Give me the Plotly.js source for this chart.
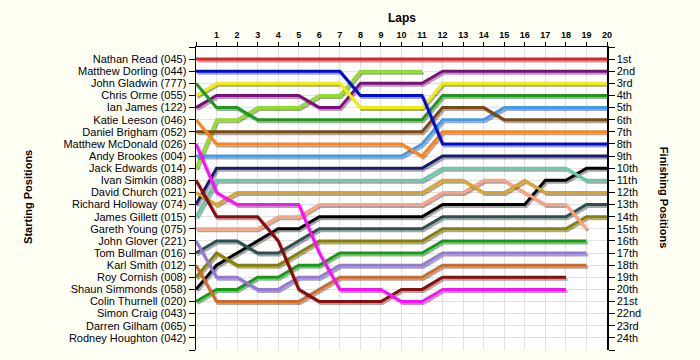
<!DOCTYPE html>
<html>
<head>
<meta charset="utf-8">
<script src="https://cdn.plot.ly/plotly-3.0.1.min.js"></script>
<style>
  html, body { margin: 0; padding: 0; background: #FFFFF3; }
  #chart { width: 700px; height: 360px; }
</style>
</head>
<body>
<div id="chart"></div>
<script>
// Starting-order names (left axis tick labels)
const startNames = [
  "Nathan Read (045)", "Matthew Dorling (044)", "John Gladwin (777)", "Chris Orme (055)",
  "Ian James (122)", "Katie Leeson (046)", "Daniel Brigham (052)", "Matthew McDonald (026)",
  "Andy Brookes (004)", "Jack Edwards (014)", "Ivan Simkin (088)", "David Church (021)",
  "Richard Holloway (074)", "James Gillett (015)", "Gareth Young (075)", "John Glover (221)",
  "Tom Bullman (016)", "Karl Smith (012)", "Roy Cornish (008)", "Shaun Simmonds (058)",
  "Colin Thurnell (020)", "Simon Craig (043)", "Darren Gilham (065)", "Rodney Houghton (042)"
];
// Finishing position labels (right axis)
const finishLabels = [
  "1st","2nd","3rd","4th","5th","6th","7th","8th","9th","10th","11th","12th",
  "13th","14th","15th","16th","17th","18th","19th","20th","21st","22nd","23rd","24th"
];
// Lap tick labels
const lapLabels = ["1","2","3","4","5","6","7","8","9","10","11","12","13","14","15","16","17","18","19","20"];

// Position on each lap (lap 0 = starting position), by starting position
const p01 = [1,1,1,1,1,1,1,1,1,1,1,1,1,1,1,1,1,1,1,1,1];
const p02 = [2,2,2,2,2,2,2,2,4,4,4,4,8,8,8,8,8,8,8,8,8];
const p03 = [3,5,5,6,6,6,6,6,6,6,6,6,4,4,4,4,4,4,4,4,4];
const p04 = [4,3,3,3,3,3,3,3,5,5,5,5,3,3,3,3,3,3,3,3,3];
const p05 = [5,4,4,4,4,4,5,5,3,3,3,3,2,2,2,2,2,2,2,2,2];
const p06 = [6,8,8,8,8,8,8,8,8,8,8,9,7,7,7,7,7,7,7,7,7];
const p07 = [7,7,7,7,7,7,7,7,7,7,7,7,5,5,5,6,6,6,6,6,6];
const p08 = [8,12,13,13,13,13,17,20,20,20,21,21,20,20,20,20,20,20,20];
const p09 = [9,9,9,9,9,9,9,9,9,9,9,8,6,6,6,5,5,5,5,5,5];
const p10 = [10,6,6,5,5,5,4,4,2,2,2,2];
const p11 = [11,14,14,14,16,20,21,21,21,21,20,20,19,19,19,19,19,19,19];
const p12 = [12,13,12,12,12,12,12,12,12,12,12,12,11,11,12,12,11,12,12,12,12];
const p13 = [13,10,10,10,10,10,10,10,10,10,10,10,9,9,9,9,9,9,9,9,9];
const p14 = [14,11,11,11,11,11,11,11,11,11,11,11,10,10,10,10,10,10,10,11,11];
const p15 = [15,15,15,15,14,14,13,13,13,13,13,13,12,12,11,11,12,13,13,15];
const p16 = [16,19,19,20,20,19,19,18,18,18,18,18,17,17,17,17,17,17,17,17];
const p17 = [17,16,16,17,17,16,15,15,15,15,15,15,14,14,14,14,14,14,14,13,13];
const p18 = [18,21,21,21,21,21,20,19,19,19,19,19,18,18,18,18,18,18,18,18];
const p19 = [19,17,18,18,18,17,16,16,16,16,16,16,15,15,15,15,15,15,15,14,14];
const p20 = [20,18,17,16,15,15,14,14,14,14,14,14,13,13,13,13,13,11,11,10,10];
const p21 = [21,20,20,19,19,18,18,17,17,17,17,17,16,16,16,16,16,16,16,16];

const series = [p01,p02,p03,p04,p05,p06,p07,p08,p09,p10,p11,p12,p13,p14,p15,p16,p17,p18,p19,p20,p21];
const colors = [
  "#E02424","#0010D0","#1E9A1E","#F0F000","#800A80","#FF8418","#7A4A14","#FF10FF",
  "#3C9CF0","#8EE020","#8A0A0A","#DAA520","#1C1C6C","#66C8AA","#FFA07E","#9678DC",
  "#2F5050","#D06A28","#888000","#000000","#10A010"
];

const traces = [];
for (let i = series.length - 1; i >= 0; i--) {
  const ys = series[i];
  traces.push({
    x: ys.map((_, k) => k),
    y: ys,
    type: "scatter",
    mode: "lines",
    line: { color: colors[i], width: 3 },
    hoverinfo: "skip",
    showlegend: false
  });
}
// anchor trace for the right axis
traces.push({ x: [0], y: [1], yaxis: "y2", type: "scatter", mode: "markers",
  marker: { opacity: 0 }, hoverinfo: "skip", showlegend: false });

const posTicks = [0].concat(startNames.map((_, i) => i + 1), [25]);
const leftText = [""].concat(startNames, [""]);
const rightText = [""].concat(finishLabels, [""]);
const lapTicks = [0].concat(lapLabels.map((_, i) => i + 1));
const lapText = [""].concat(lapLabels);

const layout = {
  width: 700, height: 360,
  margin: { l: 196, r: 93, t: 47, b: 10, pad: 0 },
  paper_bgcolor: "#FFFFF3",
  plot_bgcolor: "#FFFFFF",
  font: { family: "Liberation Sans, Arial, sans-serif", size: 11, color: "#000000" },
  xaxis: {
    side: "top", range: [0, 20], tickmode: "array", tickvals: lapTicks, ticktext: lapText,
    ticks: "outside", ticklen: 4, tickcolor: "#000", tickwidth: 1,
    showline: true, linecolor: "#000", linewidth: 1.5,
    showgrid: true, gridcolor: "#E2E2E2", gridwidth: 1, zeroline: false,
    tickfont: { size: 9, weight: "bold", color: "#000" }
  },
  yaxis: {
    range: [25, 0], tickmode: "array", tickvals: posTicks, ticktext: leftText,
    ticks: "outside", ticklen: 6, tickcolor: "#000", tickwidth: 1,
    showline: true, linecolor: "#000", linewidth: 1.5,
    showgrid: true, gridcolor: "#E2E2E2", gridwidth: 1, zeroline: false,
    tickfont: { size: 11, color: "#000010" }
  },
  yaxis2: {
    overlaying: "y", side: "right", range: [25, 0], tickmode: "array",
    tickvals: posTicks, ticktext: rightText,
    ticks: "outside", ticklen: 6, tickcolor: "#000", tickwidth: 1,
    showline: true, linecolor: "#000", linewidth: 1.5,
    showgrid: false, zeroline: false,
    tickfont: { size: 11, color: "#000010" }
  },
  annotations: [
    { text: "Laps", xref: "paper", yref: "paper", x: 0.501, y: 1.096, showarrow: false,
      xanchor: "center", yanchor: "middle", font: { size: 12, weight: "bold" } },
    { text: "Starting Positions", xref: "paper", yref: "paper", x: -0.409, y: 0.505,
      showarrow: false, textangle: -90, xanchor: "center", yanchor: "middle",
      font: { size: 11, weight: "bold" } },
    { text: "Finishing Positions", xref: "paper", yref: "paper", x: 1.139, y: 0.505,
      showarrow: false, textangle: 90, xanchor: "center", yanchor: "middle",
      font: { size: 11, weight: "bold" } }
  ]
};

Plotly.newPlot("chart", traces, layout, { staticPlot: true, displayModeBar: false }).then(gd => {
  const svg = gd.querySelector("svg.main-svg");
  const ns = "http://www.w3.org/2000/svg";
  let defs = svg.querySelector("defs");
  if (!defs) { defs = document.createElementNS(ns, "defs"); svg.insertBefore(defs, svg.firstChild); }
  const f = document.createElementNS(ns, "filter");
  f.setAttribute("id", "lineShadow");
  f.setAttribute("filterUnits", "userSpaceOnUse");
  f.setAttribute("x", "-100"); f.setAttribute("y", "-100");
  f.setAttribute("width", "1000"); f.setAttribute("height", "700");
  const ds = document.createElementNS(ns, "feDropShadow");
  ds.setAttribute("dx", "1.5"); ds.setAttribute("dy", "2");
  ds.setAttribute("stdDeviation", "0.4");
  ds.setAttribute("flood-color", "#000"); ds.setAttribute("flood-opacity", "0.35");
  f.appendChild(ds);
  defs.appendChild(f);
  gd.querySelectorAll(".scatterlayer .trace").forEach(t => t.setAttribute("filter", "url(#lineShadow)"));
});
</script>
</body>
</html>
